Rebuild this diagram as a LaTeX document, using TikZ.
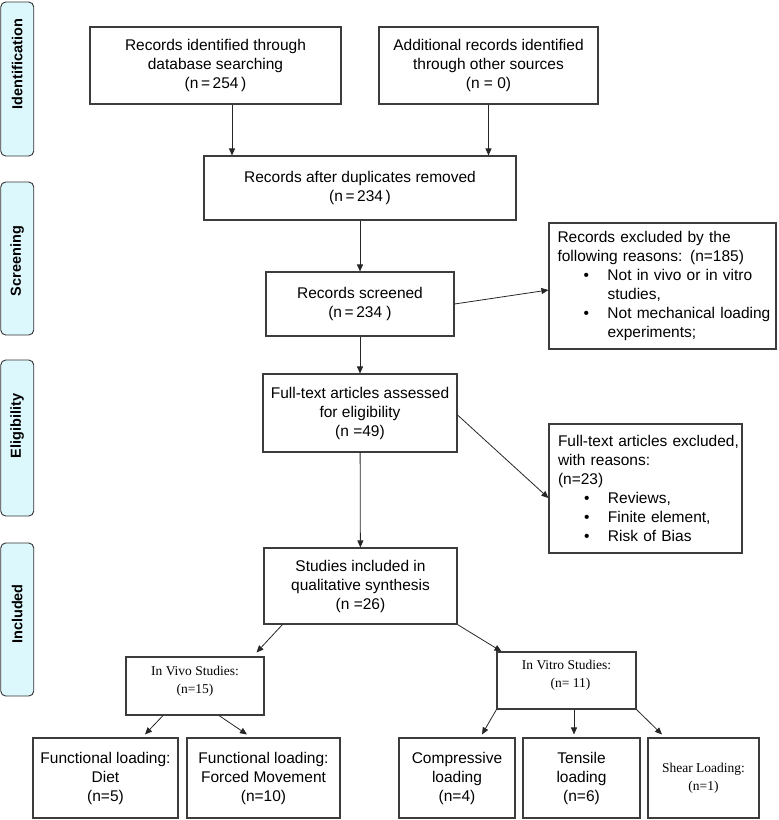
\documentclass[tikz,border=0pt]{standalone}
\usepackage{fontspec}
\setmainfont{Liberation Sans}
\newfontfamily\timesfont{Liberation Serif}
\usepackage{tikz}
\usetikzlibrary{arrows.meta, positioning}
\usepackage{xcolor}
\definecolor{phasecyan}{RGB}{221, 248, 253}
\definecolor{edgegray}{RGB}{60, 60, 60}
\newcommand{\headline}[1]{\hspace*{3pt}\mbox{#1}}
\newcommand{\bulletline}[1]{\hspace*{29pt}\makebox[24pt][l]{\textbullet}\mbox{#1}}
\newcommand{\bulletcont}[1]{\hspace*{53pt}\mbox{#1}}

\begin{document}
\begin{tikzpicture}[x=1pt, y=-1pt,
    box/.style={draw=edgegray, line width=1.1pt, align=center, inner sep=0pt,
      font=\fontsize{15.5}{19}\selectfont},
    listbox/.style={box, align=left, inner ysep=0pt},
    serifbox/.style={box, font=\timesfont\fontsize{13.5}{18}\selectfont},
    phase/.style={draw=black!80, fill=phasecyan, rounded corners=5pt, line width=0.9pt,
      rotate=90, minimum height=33pt, inner sep=0pt,
      font=\bfseries\fontsize{14.5}{16}\selectfont},
    arr/.style={-{Triangle[length=7pt, width=6pt]}, line width=0.8pt, black!85}]
        \useasboundingbox (0,0) rectangle (779,820);

        % Phases
        \node[phase, minimum width=154pt] (ident) at (17.25,79) {\hspace*{30pt}Identification};
        \node[phase, minimum width=153pt] (screen) at (17.25,258.5) {Screening\hspace*{5pt}};
        \node[phase, minimum width=156pt] (elig) at (17.25,438) {\hspace*{24pt}Eligibility};
        \node[phase, minimum width=153pt] (incl) at (17.25,619.5) {\hspace*{11pt}Included};

        % Identification
        \node[box, minimum width=251pt, minimum height=77pt] (dbsearch) at (215.5,65.5)
          {Records identified through\\database searching\\(n\,=\,254\,)};
        \node[box, minimum width=219pt, minimum height=77pt] (other) at (488.5,65.5)
          {Additional records identified\\through other sources\\(n = 0)};

        % Screening
        \node[box, minimum width=312pt, minimum height=64pt] (dup) at (360,188)
          {Records after duplicates removed\\(n\,=\,234\,)};
        \node[box, minimum width=188pt, minimum height=64pt] (screened) at (360,304)
          {Records screened\\(n\,=\,234 )};
        \node[listbox, text width=216pt, inner xsep=5.5pt, minimum height=126pt] (excl1) at (662.5,286)
          {\headline{Records excluded by the}\\
           \headline{following reasons: (n=185)}\\
           \bulletline{Not in vivo or in vitro}\\
           \bulletcont{studies,}\\
           \bulletline{Not mechanical loading}\\
           \bulletcont{experiments;}};

        % Eligibility
        \node[box, minimum width=194pt, minimum height=78pt] (fulltext) at (360,413)
          {Full-text articles assessed\\for eligibility\\(n =49)};
        \node[listbox, text width=181pt, inner xsep=6pt, minimum height=129pt] (excl2) at (645.5,488.5)
          {\headline{Full-text articles excluded,}\\
           \headline{with reasons:}\\
           \headline{(n=23)}\\
           \bulletline{Reviews,}\\
           \bulletline{Finite element,}\\
           \bulletline{Risk of Bias}};

        % Included
        \node[box, minimum width=193pt, minimum height=76pt] (studies) at (360.5,586)
          {Studies included in\\qualitative synthesis\\(n =26)};
        \node[serifbox, text depth=13pt, minimum width=138pt, minimum height=58pt] (invivo) at (195,686)
          {In Vivo Studies:\\(n=15)};
        \node[serifbox, text depth=13pt, minimum width=139pt, minimum height=57pt] (invitro) at (566.5,680.5)
          {In Vitro Studies:\\\hspace*{8pt}(n= 11)};
        \node[box, minimum width=145pt, minimum height=80pt] (diet) at (105.5,778)
          {Functional loading:\\Diet\\(n=5)};
        \node[box, minimum width=153pt, minimum height=80pt] (forced) at (263.5,778)
          {Functional loading:\\Forced Movement\\(n=10)};
        \node[box, minimum width=116pt, minimum height=80pt] (compr) at (457,778)
          {Compressive\\loading\\(n=4)};
        \node[box, minimum width=117pt, minimum height=80pt] (tensile) at (581.5,778)
          {Tensile\\loading\\(n=6)};
        \node[serifbox, minimum width=111pt, minimum height=80pt] (shear) at (703.5,778)
          {Shear Loading:\\(n=1)};

        % Flow
        \coordinate (dbout) at ([xshift=16.5pt]dbsearch.south);
        \draw[arr] (dbout) -- (dbout |- dup.north);
        \draw[arr] (other.south) -- (other.south |- dup.north);
        \draw[arr] (dup) -- (screened);
        \draw[arr] (screened) -- (fulltext);
        \draw[arr] (fulltext) -- (studies);

        % Exclusions
        \draw[arr] (screened.east) -- ([yshift=-4pt]excl1.west);
        \draw[arr] ([yshift=-2pt]fulltext.east) -- ([yshift=-9.5pt]excl2.west);

        % Study types
        \draw[arr] ([xshift=19pt]studies.south west) -- ([xshift=-8pt, yshift=4pt]invivo.north east);
        \draw[arr] (studies.south east) -- ([xshift=5pt]invitro.north west);
        \draw[arr] ([xshift=-32pt]invivo.south) -- ([xshift=39.5pt, yshift=3pt]diet.north);
        \draw[arr] ([xshift=24pt]invivo.south) -- ([xshift=-16.5pt, yshift=3pt]forced.north);
        \draw[arr] (invitro.south west) -- ([xshift=25pt, yshift=3pt]compr.north);
        \draw[arr] ([xshift=7.5pt]invitro.south) -- ([xshift=-7.5pt, yshift=3pt]tensile.north);
        \draw[arr] (invitro.south east) -- ([xshift=-41.5pt, yshift=3pt]shear.north);
      \end{tikzpicture}
\end{document}
